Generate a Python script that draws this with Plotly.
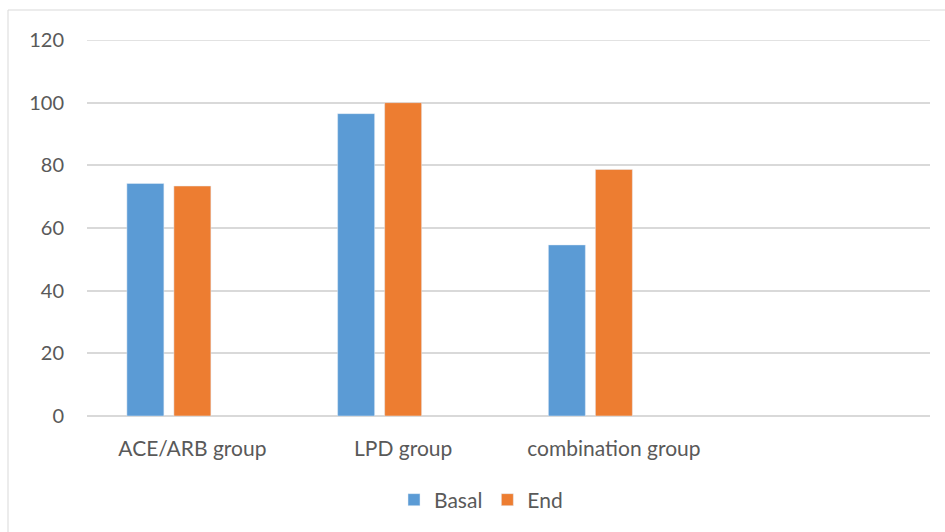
import plotly.graph_objects as go

categories = ["ACE/ARB group", "LPD group", "combination group"]
basal = [74.2, 96.5, 54.6]
end = [73.4, 100.0, 78.7]
y_ticks = [0, 20, 40, 60, 80, 100, 120]

# layout geometry (pixels)
W, H = 945, 532
L, R, T, B = 87, 15, 40, 116
plot_w = W - L - R
plot_h = H - T - B
n_slots = 4                     # three groups plus one empty slot on the right
cat_px = plot_w / n_slots
bar_px = 37
slot_px = 47                    # bar + gap inside a group (three series per group)

bar_w = bar_px / cat_px
off_basal = (-1.5 * slot_px + (slot_px - bar_px) / 2) / cat_px
off_end = off_basal + slot_px / cat_px

font_family = "Lato, 'Open Sans', sans-serif"
text_color = "#595959"
grid_color = "#d9d9d9"
fs = 21

fig = go.Figure()
fig.add_trace(go.Bar(x=categories, y=basal, name="Basal", marker_color="#5B9BD5",
                     width=bar_w, offset=off_basal))
fig.add_trace(go.Bar(x=categories, y=end, name="End", marker_color="#ED7D31",
                     width=bar_w, offset=off_end))

# light outer frame of the chart area
fig.add_shape(type="rect", xref="paper", yref="paper",
              x0=(8 - L) / plot_w, x1=(W + 10 - L) / plot_w,
              y0=(T + plot_h - (H + 10)) / plot_h, y1=(T + plot_h - 10) / plot_h,
              line=dict(color=grid_color, width=1), fillcolor="rgba(0,0,0,0)", layer="below")

# gridline at the top of the value range
fig.add_shape(type="line", xref="paper", yref="y", x0=0, x1=1, y0=y_ticks[-1], y1=y_ticks[-1],
              line=dict(color=grid_color, width=1.5), layer="below")

fig.update_layout(
    width=W, height=H,
    margin=dict(l=L, r=R, t=T, b=B),
    paper_bgcolor="white", plot_bgcolor="white",
    barmode="overlay",
    font=dict(family=font_family, size=fs, color=text_color),
    showlegend=True,
    legend=dict(orientation="h", x=(481 - L) / plot_w, xanchor="center",
                y=(T + plot_h - 500) / plot_h, yanchor="middle",
                font=dict(size=fs, color=text_color), itemwidth=30,
                traceorder="normal"),
    xaxis=dict(type="category", range=[-0.5, n_slots - 0.5], showgrid=False,
               showline=False, ticks="", ticklabelstandoff=18,
               tickfont=dict(size=fs, color=text_color)),
    yaxis=dict(range=[0, 120], tickvals=y_ticks, showgrid=True, gridcolor=grid_color,
               gridwidth=1.5, zeroline=True, zerolinecolor=grid_color, zerolinewidth=1.5,
               showline=False, ticks="", ticklabelstandoff=22,
               tickfont=dict(size=20, color=text_color)),
)

fig.write_html("out.html")
